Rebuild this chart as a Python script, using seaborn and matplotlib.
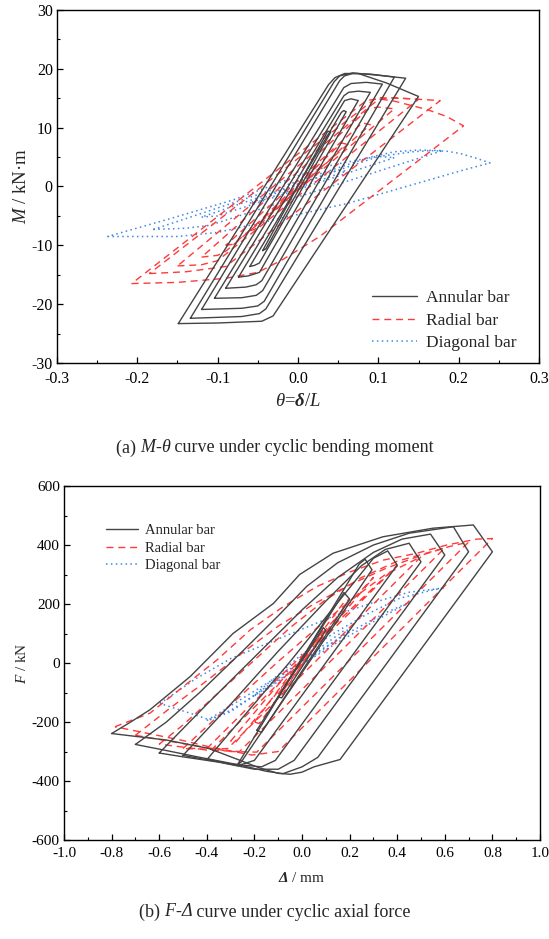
import numpy as np
import pandas as pd
import matplotlib
matplotlib.use("Agg")
import matplotlib.pyplot as plt
import seaborn as sns
from matplotlib.lines import Line2D
from matplotlib.ticker import MultipleLocator

# ---------------- DATA: panel (a) M-theta ----------------
series_names = ["Annular bar", "Radial bar", "Diagonal bar"]

a_ann_x = [
    [-0.044, -0.040, 0.041, 0.037, -0.044],
    [-0.060, -0.054, -0.048, 0.060, 0.057, 0.054, -0.060],
    [-0.074, -0.062, -0.048, 0.075, 0.066, 0.058, -0.074],
    [-0.090, -0.065, -0.052, -0.045, 0.090, 0.075, 0.063, 0.057, -0.090],
    [-0.104, -0.070, -0.052, -0.044, 0.105, 0.085, 0.066, 0.057, -0.104],
    [-0.120, -0.070, -0.050, -0.042, 0.120, 0.090, 0.068, 0.058, 0.052, -0.120],
    [-0.134, -0.070, -0.048, -0.040, 0.134, 0.100, 0.068, 0.052, 0.045, -0.134],
    [-0.149, -0.100, -0.045, -0.031, 0.150, 0.110, 0.075, 0.058, 0.046, 0.038, -0.149],
]
a_ann_y = [
    [-10.9, -10.6, 9.3, 9.4, -10.9],
    [-13.6, -13.4, -13.0, 12.7, 12.9, 12.6, -13.6],
    [-15.4, -15.2, -14.6, 14.6, 14.9, 14.6, -15.4],
    [-17.3, -17.1, -16.7, -16.0, 16.0, 16.2, 16.0, 15.4, -17.3],
    [-19.0, -18.9, -18.5, -17.7, 17.4, 17.7, 17.5, 16.8, -19.0],
    [-20.9, -20.7, -20.3, -19.5, 18.6, 19.1, 19.2, 18.8, 18.0, -20.9],
    [-22.4, -22.1, -21.6, -20.8, 18.4, 18.9, 19.3, 18.8, 17.8, -22.4],
    [-23.3, -23.2, -22.9, -22.0, 15.3, 17.6, 19.2, 19.2, 18.5, 17.3, -23.3],
]

a_rad_x = [
    [-0.030, -0.026, 0.030, 0.026, -0.030],
    [-0.060, -0.054, 0.060, 0.054, -0.060],
    [-0.090, -0.080, 0.090, 0.080, -0.090],
    [-0.120, -0.100, -0.090, 0.120, 0.100, 0.088, -0.120],
    [-0.150, -0.120, -0.100, 0.150, 0.120, 0.100, -0.150],
    [-0.185, -0.140, -0.090, 0.177, 0.140, 0.100, 0.095, -0.185],
    [-0.207, -0.150, -0.090, -0.050, -0.020, 0.027, 0.206, 0.185, 0.160, 0.120, 0.100, 0.085, -0.207],
]
a_rad_y = [
    [-4.0, -3.8, 3.6, 3.8, -4.0],
    [-7.5, -7.3, 7.2, 7.4, -7.5],
    [-10.0, -9.8, 10.5, 10.8, -10.0],
    [-12.0, -11.7, -11.0, 13.2, 13.5, 13.2, -12.0],
    [-13.5, -13.3, -12.6, 14.8, 15.1, 14.8, -13.5],
    [-14.8, -14.5, -13.6, 14.6, 14.9, 15.1, 14.8, -14.8],
    [-16.5, -16.3, -15.6, -14.6, -12.5, -8.5, 10.3, 11.9, 13.1, 14.5, 14.9, 14.6, -16.5],
]

a_dia_x = [
    [-0.060, -0.050, 0.060, 0.050, -0.060],
    [-0.120, -0.100, 0.120, 0.100, -0.120],
    [-0.180, -0.140, -0.110, 0.180, 0.150, 0.120, 0.090, -0.180],
    [-0.237, -0.150, -0.100, 0.061, 0.206, 0.239, 0.222, 0.202, 0.185, 0.164, 0.143,
     0.090, 0.044, 0.000, -0.081, -0.160, -0.237],
]
a_dia_y = [
    [-2.8, -2.6, 2.6, 2.8, -2.8],
    [-5.2, -5.0, 4.9, 5.1, -5.2],
    [-7.3, -7.1, -6.6, 6.1, 6.2, 5.9, 5.0, -7.3],
    [-8.5, -8.5, -7.8, -2.9, 2.8, 4.0, 4.8, 5.6, 6.0, 6.1, 5.9,
     4.9, 3.7, 1.8, -2.3, -5.5, -8.5],
]

# ---------------- DATA: panel (b) F-Delta ----------------
b_ann_x = [
    [-0.10, 0.09, 0.10, -0.085, -0.10],
    [-0.19, 0.176, 0.20, -0.17, -0.19],
    [-0.272, 0.24, 0.265, 0.294, -0.255, -0.272],
    [-0.397, -0.055, 0.30, 0.36, 0.40, -0.20, -0.27, -0.34, -0.397],
    [-0.50, -0.30, -0.10, 0.10, 0.25, 0.35, 0.45, 0.50, -0.112, -0.17, -0.30, -0.42, -0.50],
    [-0.60, -0.40, -0.20, 0.00, 0.15, 0.30, 0.42, 0.54, 0.60, -0.033, -0.10, -0.20, -0.35, -0.50, -0.60],
    [-0.70, -0.57, -0.43, -0.25, -0.10, 0.02, 0.15, 0.30, 0.45, 0.636, 0.70,
     0.066, 0.00, -0.08, -0.15, -0.26, -0.44, -0.58, -0.70],
    [-0.80, -0.72, -0.64, -0.47, -0.29, -0.12, -0.01, 0.13, 0.34, 0.55, 0.72, 0.80,
     0.16, 0.05, 0.00, -0.05, -0.10, -0.18, -0.26, -0.39, -0.57, -0.80],
]
b_ann_y = [
    [-115, 120, 110, -118, -115],
    [-228, 239, 217, -235, -228],
    [-346, 335, 352, 316, -335, -346],
    [-325, 0, 355, 380, 332, -330, -348, -336, -325],
    [-313, -140, 40, 210, 330, 385, 406, 343, -330, -352, -342, -325, -313],
    [-305, -140, 20, 180, 290, 375, 420, 437, 366, -330, -360, -360, -336, -318, -305],
    [-276, -200, -100, 40, 160, 260, 340, 400, 440, 462, 377,
     -320, -352, -375, -367, -346, -318, -295, -276],
    [-239, -200, -159, -46, 100, 202, 300, 372, 428, 457, 468, 377,
     -327, -352, -370, -377, -374, -355, -330, -290, -261, -239],
]

b_rad_x = [
    [-0.10, 0.09, 0.10, -0.085, -0.10],
    [-0.20, 0.18, 0.20, -0.18, -0.20],
    [-0.30, -0.15, 0.00, 0.15, 0.30, -0.28, -0.30],
    [-0.40, -0.30, -0.15, 0.00, 0.15, 0.30, 0.40, -0.375, -0.40],
    [-0.50, -0.40, -0.25, -0.10, 0.05, 0.20, 0.35, 0.50, -0.3125, -0.40, -0.50],
    [-0.60, -0.50, -0.35, -0.20, -0.05, 0.10, 0.25, 0.40, 0.60, -0.2625, -0.40, -0.60],
    [-0.70, -0.55, -0.40, -0.25, -0.10, 0.05, 0.20, 0.35, 0.50, 0.62, 0.70,
     -0.19, -0.30, -0.45, -0.70],
    [-0.786, -0.639, -0.499, -0.358, -0.218, -0.079, 0.062, 0.202, 0.342, 0.482, 0.608, 0.734, 0.80,
     -0.10, -0.21, -0.39, -0.51, -0.786],
]
b_rad_y = [
    [-105, 112, 115, -108, -105],
    [-200, 210, 215, -205, -200],
    [-265, -120, 20, 160, 290, -270, -265],
    [-290, -210, -90, 25, 140, 255, 330, -290, -290],
    [-290, -215, -105, 5, 110, 210, 300, 360, -290, -292, -290],
    [-275, -210, -100, 10, 120, 215, 290, 345, 390, -300, -295, -275],
    [-245, -150, -60, 35, 125, 200, 265, 320, 365, 395, 410,
     -302, -300, -280, -245],
    [-216, -170, -80, 10, 112, 191, 259, 309, 349, 372, 400, 420, 422,
     -300, -312, -284, -261, -216],
]

b_dia_x = [
    [-0.20, -0.18, 0.20, 0.18, -0.20],
    [-0.40, -0.25, -0.10, 0.05, 0.20, 0.35, 0.45, 0.30, 0.15, 0.00, -0.15, -0.30, -0.40],
    [-0.597, -0.45, -0.30, -0.15, 0.00, 0.15, 0.30, 0.45, 0.60,
     0.552, 0.412, 0.272, 0.132, 0.00, -0.10, -0.218, -0.30, -0.387, -0.471, -0.597],
]
b_dia_y = [
    [-110, -108, 110, 112, -110],
    [-195, -120, -45, 30, 105, 170, 205, 140, 70, -5, -85, -160, -195],
    [-137, -55, 15, 65, 115, 165, 205, 240, 255,
     248, 220, 165, 100, 30, -40, -120, -165, -193, -170, -137],
]

# ---------------- STYLE ----------------
sns.set_theme(style="ticks")
plt.rcParams["font.family"] = ["Liberation Serif", "DejaVu Serif"]
plt.rcParams["axes.unicode_minus"] = False
plt.rcParams["mathtext.fontset"] = "custom"
plt.rcParams["mathtext.rm"] = "Liberation Serif"
plt.rcParams["mathtext.it"] = "Liberation Serif:italic"
plt.rcParams["mathtext.bf"] = "Liberation Serif:bold"
try:
    plt.rcParams["mathtext.bfit"] = "Liberation Serif:bold:italic"
    BF_D = r"\mathbfit{\delta}"
    BF_DD = r"\mathbfit{\Delta}"
except Exception:
    BF_D = r"\delta"
    BF_DD = r"\Delta"

colors = {"Annular bar": "#444444", "Radial bar": "#ff3a3a", "Diagonal bar": "#3f86e8"}
styles = {"Annular bar": "-", "Radial bar": (0, (5, 3.5)), "Diagonal bar": (0, (1, 2.2))}
widths = {"Annular bar": 1.0, "Radial bar": 1.0, "Diagonal bar": 1.1}


def make_df(groups):
    rows = []
    for name, xs, ys in groups:
        for li, (lx, ly) in enumerate(zip(xs, ys)):
            for k, (xv, yv) in enumerate(zip(lx, ly)):
                rows.append((name, f"{name}-{li}", k, xv, yv))
    return pd.DataFrame(rows, columns=["series", "loop", "order", "x", "y"])


def draw(ax, df):
    for name in ["Diagonal bar", "Radial bar", "Annular bar"]:
        sub = df[df.series == name]
        sns.lineplot(data=sub, x="x", y="y", units="loop", estimator=None, sort=False,
                     color=colors[name], linestyle=styles[name], linewidth=widths[name],
                     ax=ax, legend=False)


def style_axes(ax, lsize, xpad):
    for s in ax.spines.values():
        s.set_linewidth(1.0)
        s.set_color("black")
    ax.tick_params(which="both", direction="in", top=False, right=False, labelsize=lsize,
                   colors="black")
    ax.tick_params(which="major", length=4, width=0.9)
    ax.tick_params(which="minor", length=2.5, width=0.8)
    ax.tick_params(axis="x", which="major", pad=xpad)
    ax.tick_params(axis="y", which="major", pad=3)


def legend(ax, **kw):
    handles = [Line2D([], [], color=colors[n], linestyle=styles[n], linewidth=widths[n])
               for n in series_names]
    ax.legend(handles, series_names, frameon=False, **kw)


def rich_caption(fig, y, parts, fontsize):
    renderer = fig.canvas.get_renderer()
    texts = []
    widths_px = []
    for s, style in parts:
        t = fig.text(0, y, s, fontsize=fontsize, style=style, va="center", ha="left")
        bb = t.get_window_extent(renderer=renderer)
        texts.append(t)
        widths_px.append(bb.width)
    W = fig.get_figwidth() * fig.dpi
    total = sum(widths_px)
    x = (W - total) / 2.0
    for t, w in zip(texts, widths_px):
        t.set_x(x / W)
        x += w


fig = plt.figure(figsize=(5.49, 9.39), dpi=100)

# panel (a)
ax1 = fig.add_axes([0.1038, 0.6134, 0.878, 0.376])
dfa = make_df([("Annular bar", a_ann_x, a_ann_y), ("Radial bar", a_rad_x, a_rad_y),
               ("Diagonal bar", a_dia_x, a_dia_y)])
draw(ax1, dfa)
ax1.set_xlim(-0.3, 0.3)
ax1.set_ylim(-30, 30)
ax1.xaxis.set_major_locator(MultipleLocator(0.1))
ax1.xaxis.set_minor_locator(MultipleLocator(0.05))
ax1.yaxis.set_major_locator(MultipleLocator(10))
ax1.yaxis.set_minor_locator(MultipleLocator(5))
ax1.set_xticklabels([f"{v:.1f}" for v in ax1.get_xticks()])
style_axes(ax1, 11.5, 6)
ax1.set_xlabel(r"$\theta$=$" + BF_D + r"$/$L$", fontsize=13.5, labelpad=4)
ax1.set_ylabel(r"$M$ / kN·m", fontsize=13.5, labelpad=1)
legend(ax1, loc="lower right", bbox_to_anchor=(0.985, -0.01), fontsize=12.5,
       handlelength=2.6, labelspacing=0.35, handletextpad=0.5)
rich_caption(fig, 1 - 448 / 939,
             [("(a) ", "normal"), ("M", "italic"), ("-", "normal"), ("θ", "italic"),
              (" curve under cyclic bending moment", "normal")], 13)

# panel (b)
ax2 = fig.add_axes([0.1166, 0.1054, 0.867, 0.377])
dfb = make_df([("Annular bar", b_ann_x, b_ann_y), ("Radial bar", b_rad_x, b_rad_y),
               ("Diagonal bar", b_dia_x, b_dia_y)])
draw(ax2, dfb)
ax2.set_xlim(-1.0, 1.0)
ax2.set_ylim(-600, 600)
ax2.xaxis.set_major_locator(MultipleLocator(0.2))
ax2.xaxis.set_minor_locator(MultipleLocator(0.1))
ax2.yaxis.set_major_locator(MultipleLocator(200))
ax2.yaxis.set_minor_locator(MultipleLocator(100))
ax2.set_xticklabels([f"{v:.1f}" for v in ax2.get_xticks()])
style_axes(ax2, 11, 5)
ax2.set_xlabel(r"$" + BF_DD + r"$ / mm", fontsize=11, labelpad=8)
ax2.set_ylabel(r"$F$ / kN", fontsize=11, labelpad=2)
legend(ax2, loc="upper left", bbox_to_anchor=(0.06, 0.93), fontsize=10.5,
       handlelength=2.2, labelspacing=0.3, handletextpad=0.5)
rich_caption(fig, 1 - 912 / 939,
             [("(b) ", "normal"), ("F", "italic"), ("-", "normal"), ("Δ", "italic"),
              (" curve under cyclic axial force", "normal")], 13)

fig.savefig("out.png", dpi=100)
